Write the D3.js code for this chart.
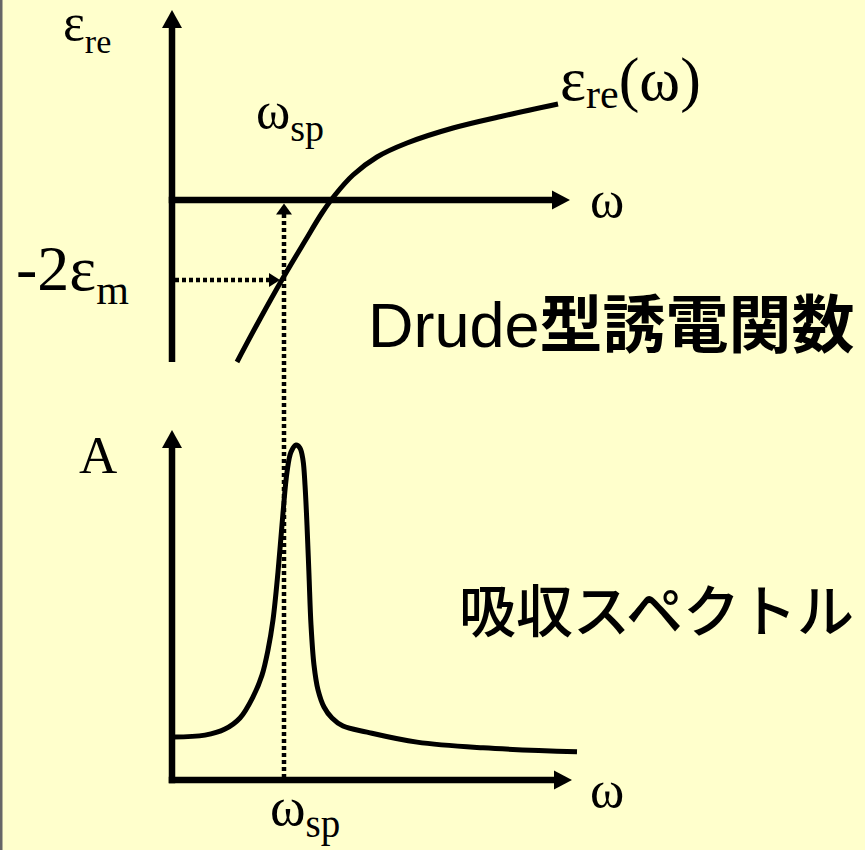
<!DOCTYPE html>
<html>
<head>
<meta charset="utf-8">
<script src="https://cdn.jsdelivr.net/npm/d3@7"></script>
<style>
  html, body { margin: 0; padding: 0; background: #FFFFCC; }
  svg { display: block; }
</style>
</head>
<body>
<svg id="chart" width="865" height="850"></svg>
<script>
// Drude-type dielectric function, real part (omega, eps_re)
const drudeOmega = [16.25, 22, 27.75, 33.25, 37.5, 40.75, 45.25, 51.25, 58.75, 70.25, 82.75, 96.5];
const drudeEps   = [-4.05, -2.975, -1.95, -1.025, -0.325, 0.125, 0.625, 1.075, 1.425, 1.8, 2.1, 2.4];

// Absorption spectrum with the surface plasmon peak (omega, A)
const absOmega = [0.25, 8.25, 13.25, 17, 20.25, 22.5, 24, 25.25, 26.5, 27.75, 28.75, 29.75, 31, 32,
                  32.75, 33.25, 33.75, 34.25, 34.75, 35.5, 36.5, 38, 40, 42.75, 48.75, 61.25, 77.75, 101.25];
const absA     = [1.28, 1.34, 1.52, 1.85, 2.48, 3.13, 3.88, 4.78, 6.21, 7.97, 9.19, 9.79, 10, 9.91,
                  9.55, 8.81, 7.61, 6.12, 4.63, 3.43, 2.69, 2.18, 1.85, 1.61, 1.43, 1.13, 0.96, 0.84];

// Marked values
const omegaSp = 28;
const minus2EpsM = -2;

const svg = d3.select("#chart");

// thin frame edge on the left
svg.append("rect").attr("x", 0).attr("y", 0).attr("width", 2.5).attr("height", 850).attr("fill", "#666");

const x = d3.scaleLinear().domain([0, 100]).range([172, 572]);
const yTop = d3.scaleLinear().domain([-4.05, 4.75]).range([362, 10]);
const yBot = d3.scaleLinear().domain([0, 10]).range([780, 445]);

const axisW = 6.5;
const ink = "#000";

function arrowUp(xc, tipY, halfW, len) {
  return `M${xc},${tipY} L${xc + halfW},${tipY + len} L${xc - halfW},${tipY + len} Z`;
}
function arrowRight(tipX, yc, halfH, len) {
  return `M${tipX},${yc} L${tipX - len},${yc - halfH} L${tipX - len},${yc + halfH} Z`;
}

// ---------- upper panel: eps_re(omega) ----------
const upper = svg.append("g");
const x0 = x(0);
const yAxisTopTip = yTop(4.75);
const xAxisTip = x(99.5);

upper.append("line").attr("x1", x0).attr("x2", x0)
  .attr("y1", yTop(-4.05)).attr("y2", yAxisTopTip + 14)
  .attr("stroke", ink).attr("stroke-width", axisW);
upper.append("path").attr("d", arrowUp(x0, yAxisTopTip, 10, 18)).attr("fill", ink);

upper.append("line").attr("x1", x0 - axisW / 2).attr("x2", xAxisTip - 14)
  .attr("y1", yTop(0)).attr("y2", yTop(0))
  .attr("stroke", ink).attr("stroke-width", axisW);
upper.append("path").attr("d", arrowRight(xAxisTip, yTop(0), 9.5, 18)).attr("fill", ink);

// dotted guide lines
const xs = x(omegaSp);
const yM = yTop(minus2EpsM);
svg.append("line").attr("x1", xs).attr("x2", xs)
  .attr("y1", yTop(0) + 14).attr("y2", yBot(0) - 3)
  .attr("stroke", ink).attr("stroke-width", 4.5).attr("stroke-dasharray", "4,3");
svg.append("path").attr("d", arrowUp(xs, yTop(0) + 3.5, 8, 11)).attr("fill", ink);

upper.append("line").attr("x1", x0 + 3).attr("x2", xs - 13)
  .attr("y1", yM).attr("y2", yM)
  .attr("stroke", ink).attr("stroke-width", 4.5).attr("stroke-dasharray", "4,3");
upper.append("path").attr("d", arrowRight(xs - 4, yM, 7, 11)).attr("fill", ink);

const lineTop = d3.line()
  .x((d, i) => x(drudeOmega[i]))
  .y((d, i) => yTop(drudeEps[i]))
  .curve(d3.curveCatmullRom.alpha(0.5));
upper.append("path").attr("d", lineTop(drudeOmega))
  .attr("fill", "none").attr("stroke", ink).attr("stroke-width", 5)
  .attr("stroke-linecap", "butt").attr("stroke-linejoin", "round");

// ---------- lower panel: absorption A(omega) ----------
const lower = svg.append("g");
const yAxisBotTip = yBot(10.45);
lower.append("line").attr("x1", x0).attr("x2", x0)
  .attr("y1", yBot(0) + axisW / 2).attr("y2", yAxisBotTip + 14)
  .attr("stroke", ink).attr("stroke-width", axisW);
lower.append("path").attr("d", arrowUp(x0, yAxisBotTip, 10, 18)).attr("fill", ink);

lower.append("line").attr("x1", x0 - axisW / 2).attr("x2", x(100) - 14)
  .attr("y1", yBot(0)).attr("y2", yBot(0))
  .attr("stroke", ink).attr("stroke-width", axisW);
lower.append("path").attr("d", arrowRight(x(100), yBot(0), 9.5, 18)).attr("fill", ink);

const lineBot = d3.line()
  .x((d, i) => x(absOmega[i]))
  .y((d, i) => yBot(absA[i]))
  .curve(d3.curveCatmullRom.alpha(0.5));
lower.append("path").attr("d", lineBot(absOmega))
  .attr("fill", "none").attr("stroke", ink).attr("stroke-width", 5)
  .attr("stroke-linejoin", "round");

// ---------- labels ----------
const serif = "'Liberation Serif', 'Times New Roman', serif";
const sans = "'Liberation Sans', Arial, 'Noto Sans CJK JP', sans-serif";
const cjk = "'Noto Sans CJK JP', sans-serif";

function subLabel(px, py, main, sub, size, subSize, subDy, tail) {
  const t = svg.append("text").attr("x", px).attr("y", py)
    .attr("font-family", serif).attr("font-size", size).attr("fill", ink);
  t.append("tspan").text(main);
  t.append("tspan").attr("font-size", subSize).attr("dy", subDy).text(sub);
  if (tail) t.append("tspan").attr("dy", -subDy).text(tail);
  return t;
}

subLabel(63, 40, "ε", "re", 52, 34, 13);
subLabel(560, 100, "ε", "re", 62, 42, 8, "(ω)");
subLabel(256, 128, "ω", "sp", 52, 38, 13);
subLabel(16, 290, "-2ε", "m", 64, 42, 14);
subLabel(270, 825, "ω", "sp", 54, 39, 12);

svg.append("text").attr("x", 590).attr("y", 217)
  .attr("font-family", serif).attr("font-size", 52).text("ω");
svg.append("text").attr("x", 590).attr("y", 807)
  .attr("font-family", serif).attr("font-size", 52).text("ω");
svg.append("text").attr("x", 79).attr("y", 473)
  .attr("font-family", serif).attr("font-size", 53).text("A");

const title1 = svg.append("text").attr("x", 368).attr("y", 347)
  .attr("font-family", sans).attr("font-size", 63).attr("fill", ink);
title1.append("tspan").text("Drude");
title1.append("tspan").attr("font-family", cjk).attr("font-weight", 700).text("型誘電関数");

svg.append("text").attr("x", 459).attr("y", 632)
  .attr("font-family", cjk).attr("font-weight", 500).attr("font-size", 57).attr("fill", ink)
  .text("吸収スペクトル");
</script>
</body>
</html>
